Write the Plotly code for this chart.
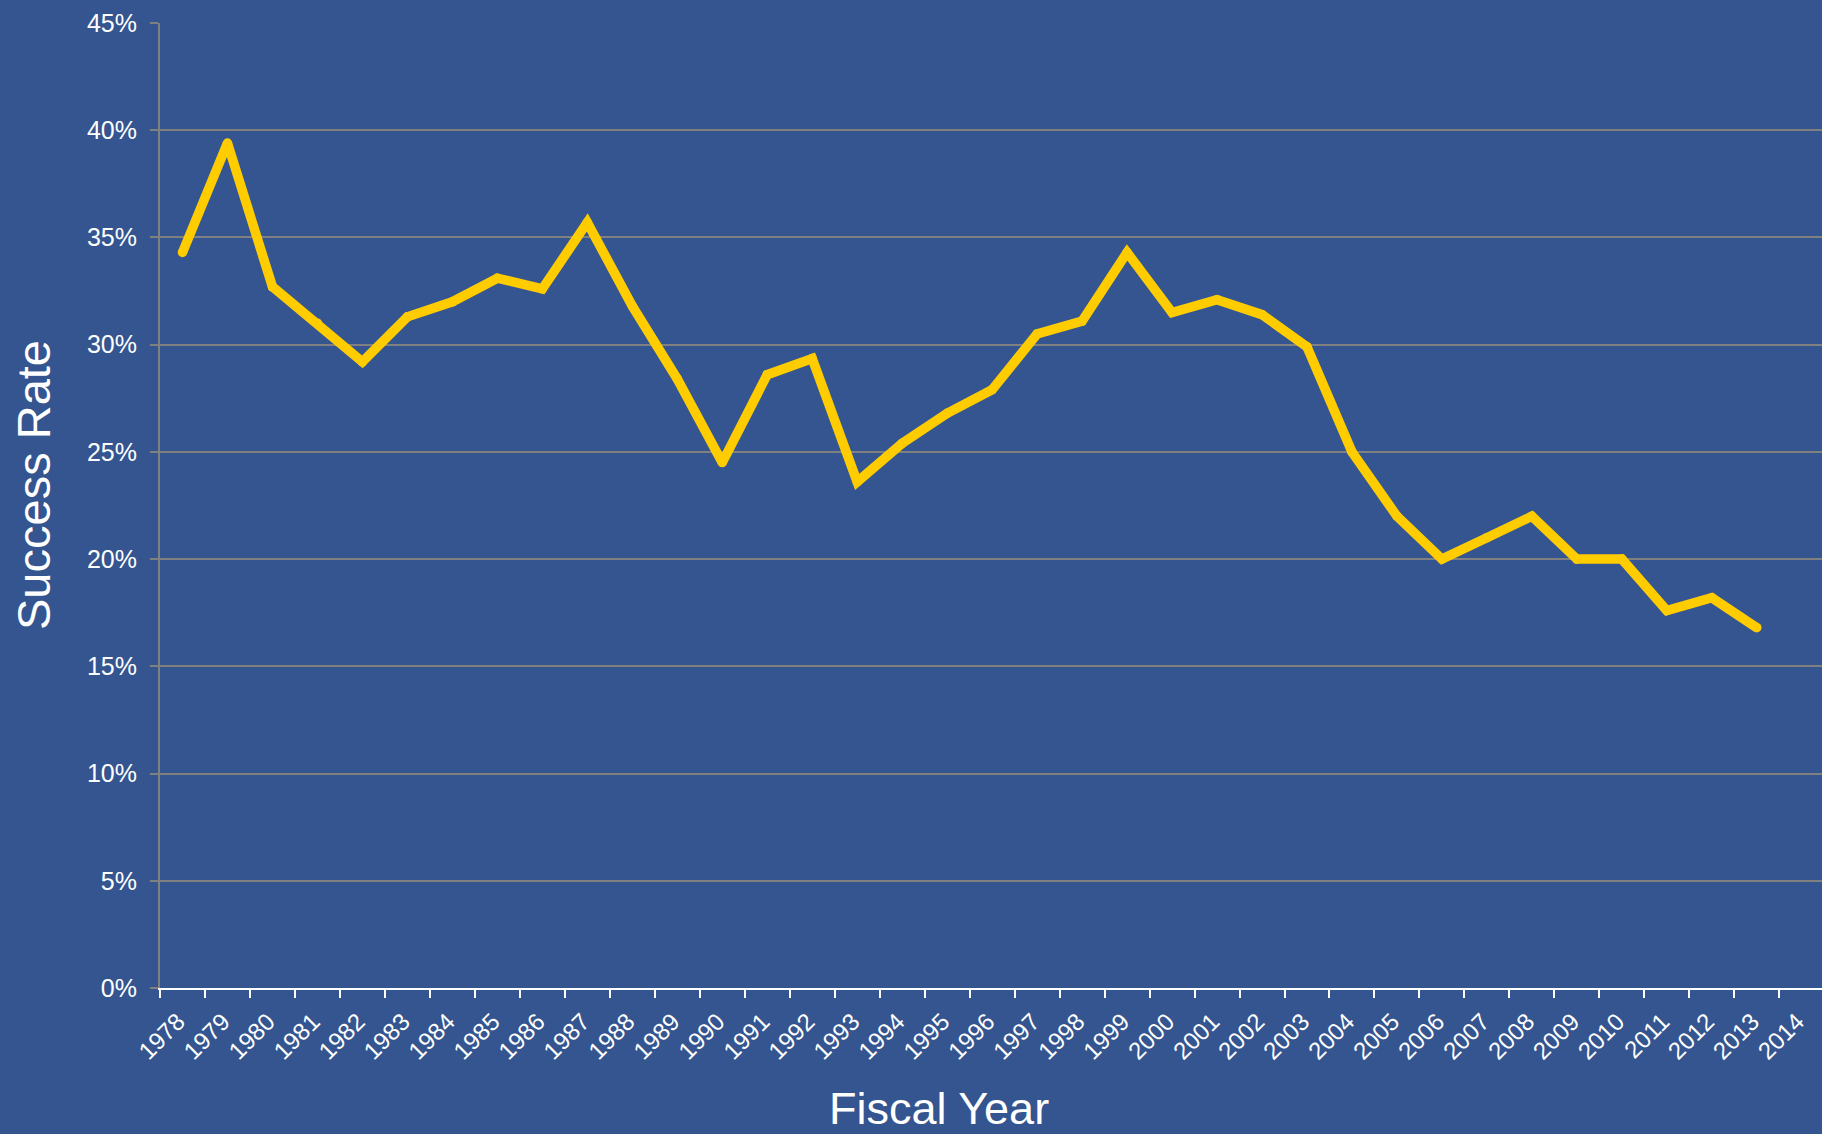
import plotly.graph_objects as go

years = list(range(1978, 2014))
success_rate = [34.3, 39.4, 32.7, 31.0, 29.2, 31.3, 32.0, 33.1, 32.6, 35.7,
                31.8, 28.4, 24.5, 28.6, 29.35, 23.6, 25.4, 26.8, 27.9, 30.5,
                31.1, 34.3, 31.5, 32.1, 31.4, 29.9, 25.0, 22.0, 20.0, 21.0,
                22.0, 20.0, 20.0, 17.6, 18.2, 16.8]
tick_years = list(range(1978, 2015))
tick_labels = [str(y) for y in tick_years]
y_ticks = [0, 5, 10, 15, 20, 25, 30, 35, 40, 45]
y_tick_labels = [f"{v}%" for v in y_ticks]

BG = "#34558F"
W, H = 1822, 1134
L, R, T, B = 160, 0, 23, 146
FONT = "Liberation Sans, Arial, sans-serif"

fig = go.Figure()
fig.add_trace(go.Scatter(
    x=[y + 0.5 for y in years], y=success_rate, mode="lines+markers",
    line=dict(color="#FFCC00", width=9.5),
    marker=dict(color="#FFCC00", size=9.5, line=dict(width=0)),
    hoverinfo="skip",
))

fig.update_layout(
    width=W, height=H,
    margin=dict(l=L, r=R, t=T, b=B),
    paper_bgcolor=BG, plot_bgcolor=BG,
    showlegend=False,
    font=dict(family=FONT, color="white"),
    xaxis=dict(
        range=[1978, 1978 + (W - L) / 44.98],
        tickmode="array", tickvals=tick_years, ticktext=tick_labels,
        tickangle=-45, ticks="outside", ticklen=8, tickwidth=2, tickcolor="white",
        showline=True, linecolor="white", linewidth=2,
        showgrid=False, zeroline=False,
        tickfont=dict(size=24, color="white"),
        ticklabelshift=18,
    ),
    yaxis=dict(
        range=[0, 45], tickmode="array", tickvals=y_ticks, ticktext=y_tick_labels,
        ticks="outside", ticklen=8, tickwidth=2, tickcolor="#808080",
        showline=True, linecolor="#808080", linewidth=2,
        showgrid=True, gridcolor="#808080", gridwidth=2,
        zeroline=False,
        tickfont=dict(size=25, color="white"),
        ticklabelstandoff=8,
    ),
    annotations=[
        dict(text="Fiscal Year", xref="paper", yref="paper",
             x=(939 - L) / (W - L), y=(H - B - 1108) / (H - B - T),
             xanchor="center", yanchor="middle", showarrow=False,
             font=dict(size=45, color="white", family=FONT)),
        dict(text="Success Rate", xref="paper", yref="paper",
             x=(33 - L) / (W - L), y=(H - B - 485) / (H - B - T),
             xanchor="center", yanchor="middle", showarrow=False, textangle=-90,
             font=dict(size=47, color="white", family=FONT)),
    ],
)

fig.write_html("out.html", config={"displayModeBar": False},
               post_script="document.body.style.margin='0';document.body.style.overflow='hidden';")
